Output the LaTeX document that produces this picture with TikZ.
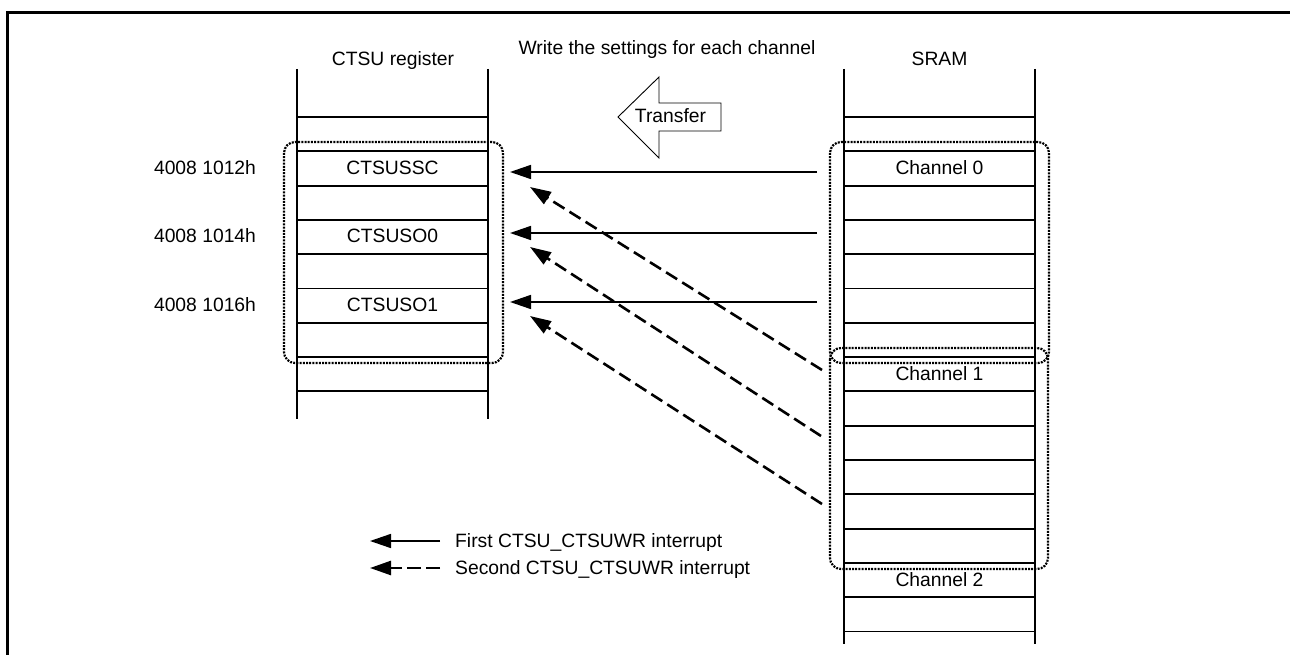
\documentclass[tikz,border=0pt]{standalone}
\usepackage{fontspec}
\setmainfont{Liberation Sans}
\usetikzlibrary{arrows.meta}

\begin{document}
\begin{tikzpicture}[
  x=1pt, y=-1pt,
  font=\fontsize{19.3}{23}\selectfont,
  colline/.style={line width=2pt},
  rowline/.style={line width=1.9pt},
  group/.style={draw, line width=2.2pt, dash pattern=on 2pt off 1.2pt, rounded corners=11pt},
  lbl/.style={anchor=base, inner sep=0pt},
  first/.style={-{Triangle[length=21pt,width=14pt]}, line width=1.6pt},
  second/.style={first, line width=2.6pt, dash pattern=on 13pt off 6pt},
  blockarr/.style={draw, line width=0.9pt, line join=miter}
]
\useasboundingbox (0,0) rectangle (1290,655);
% outer frame
\draw[line width=3pt] (7.7,680) |- (1310,12.3);

% register and memory columns
\draw[colline] (297,69) -- (297,419) (488,69) -- (488,419);
\draw[colline] (844,69) -- (844,644) (1035,69) -- (1035,644);
\foreach \k in {0,...,8}
  \draw[rowline] (297,117+34.3*\k) -- (488,117+34.3*\k);
\foreach \k in {0,...,15}
  \draw[rowline] (844,117+34.3*\k) -- (1035,117+34.3*\k);

% titles
\node[lbl] (regtitle) at (393,66) {CTSU register};
\node[lbl] (sramtitle) at (939.5,66) {SRAM};
\node[lbl] (note) at (667,55) {Write the settings for each channel};

% register rows
\node[lbl] (ssc) at (392.5,174.5) {CTSUSSC};
\node[lbl] (so0) at (392.5,243) {CTSUSO0};
\node[lbl] (so1) at (392.5,311.6) {CTSUSO1};
\node[lbl] (addr12) at (205,174.5) {4008 1012h};
\node[lbl] (addr14) at (205,243) {4008 1014h};
\node[lbl] (addr16) at (205,311.6) {4008 1016h};

% channel rows
\node[lbl] (ch0) at (939.5,174.5) {Channel 0};
\node[lbl] (ch1) at (939.5,380.2) {Channel 1};
\node[lbl] (ch2) at (939.5,586) {Channel 2};

% dotted groups
\draw[group] (284,142) rectangle (503,363);
\draw[group] (830,142) rectangle (1049,363);
\draw[group] (830,348) rectangle (1048,569);

% transfer arrow
\draw[blockarr] (721,103) -- (659,103) -- (659,77) -- (618,117)
  -- (659,158) -- (659,131) -- (721,131) -- cycle;
\node[lbl] (xfer) at (670.5,122.7) {Transfer};

% first interrupt
\coordinate (src0) at (817,172);
\coordinate (src2) at (817,233);
\coordinate (src4) at (817,302);
\coordinate (dst0) at (510,172);
\coordinate (dst2) at (510,233);
\coordinate (dst4) at (510,302);
\foreach \r in {0,2,4}
  \draw[first] (src\r) -- (dst\r);

% second interrupt
\coordinate (srcb0) at (822,370);
\coordinate (srcb2) at (821,436);
\coordinate (srcb4) at (822,504);
\coordinate (dstb0) at (530,187);
\coordinate (dstb2) at (530,247);
\coordinate (dstb4) at (530,316);
\foreach \r in {0,2,4}
  \draw[second] (srcb\r) -- (dstb\r);

% legend
\coordinate (leg1) at (440,541);
\coordinate (leg1tip) at (370,541);
\coordinate (leg2) at (440,568);
\coordinate (leg2tip) at (370,568);
\draw[first] (leg1) -- (leg1tip);
\draw[second, dash pattern=on 14pt off 5pt] (leg2) -- (leg2tip);
\node[lbl, anchor=base west] (leg1text) at (455,547) {First CTSU\_CTSUWR interrupt};
\node[lbl, anchor=base west] (leg2text) at (455,574) {Second CTSU\_CTSUWR interrupt};
\end{tikzpicture}
\end{document}
